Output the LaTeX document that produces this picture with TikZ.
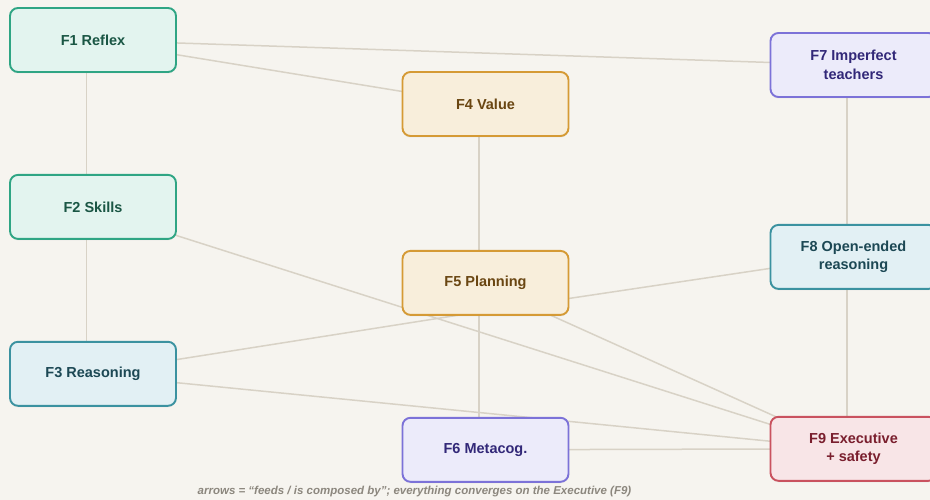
\documentclass[tikz,border=0pt]{standalone}
\usepackage{fontspec}
\setmainfont{Liberation Sans}
\usepackage{tikz}
\usetikzlibrary{positioning,backgrounds,shadows}
\definecolor{paper}{HTML}{F6F4EF}
\definecolor{linegray}{HTML}{D8D2C6}
\definecolor{capgray}{HTML}{8C877E}
\definecolor{reflexdraw}{HTML}{2FA584}
\definecolor{reflexfill}{HTML}{E3F4EF}
\definecolor{reflexink}{HTML}{1A5644}
\definecolor{valuedraw}{HTML}{D59A35}
\definecolor{valuefill}{HTML}{F8EEDB}
\definecolor{valueink}{HTML}{6A4612}
\definecolor{reasondraw}{HTML}{3B92A0}
\definecolor{reasonfill}{HTML}{E2F0F4}
\definecolor{reasonink}{HTML}{1C4854}
\definecolor{metadraw}{HTML}{7C72D8}
\definecolor{metafill}{HTML}{ECEBFA}
\definecolor{metaink}{HTML}{322878}
\definecolor{execdraw}{HTML}{C9525F}
\definecolor{execfill}{HTML}{F8E5E7}
\definecolor{execink}{HTML}{7A1F2E}

\begin{document}
\begin{tikzpicture}[x=1pt, y=-1pt, font=\bfseries\fontsize{14.5}{18.5}\selectfont,
  fbox/.style={draw, rounded corners=8pt, line width=1.9pt, minimum width=166pt, minimum height=64pt, inner sep=0pt, align=center,
    drop shadow={opacity=0.1, shadow xshift=0pt, shadow yshift=-1.5pt}},
  reflexbox/.style={fbox, draw=reflexdraw, fill=reflexfill, text=reflexink},
  valuebox/.style={fbox, draw=valuedraw, fill=valuefill, text=valueink},
  reasonbox/.style={fbox, draw=reasondraw, fill=reasonfill, text=reasonink},
  metabox/.style={fbox, draw=metadraw, fill=metafill, text=metaink},
  execbox/.style={fbox, draw=execdraw, fill=execfill, text=execink},
  link/.style={draw=linegray, line width=1.5pt},
  caption/.style={font=\bfseries\itshape\fontsize{11.5}{14}\selectfont, text=capgray}]
  \useasboundingbox (0,0) rectangle (930,500);
  \node[reflexbox] (f1) at (93,40) {F1 Reflex};
  \node[reflexbox, below=101pt of f1] (f2) {F2 Skills};
  \node[reasonbox, below=101pt of f2] (f3) {F3 Reasoning};
  \node[valuebox] (f4) at (485.5,104) {F4 Value};
  \node[valuebox, below=113pt of f4] (f5) {F5 Planning};
  \node[metabox, below=101pt of f5] (f6) {F6 Metacog.};
  \node[metabox] (f7) at (853.5,65) {F7 Imperfect\\teachers};
  \node[reasonbox, below=126pt of f7] (f8) {F8 Open-ended\\reasoning};
  \node[execbox, below=126pt of f8] (f9) {F9 Executive\\+ safety};
  \node[caption] (note) at (414.5,492) {arrows = “feeds / is composed by”; everything converges on the Executive (F9)};
  \begin{scope}[on background layer]
    \fill[paper] (0,0) rectangle (930,500);
    \draw[link] ([xshift=-6.5pt]f1.center) -- ([xshift=-6.5pt]f2.center);
    \draw[link] ([xshift=-6.5pt]f2.center) -- ([xshift=-6.5pt]f3.center);
    \draw[link] ([xshift=-6.5pt]f1.center) -- ([xshift=-6.5pt]f7.center);
    \draw[link] ([xshift=-6.5pt]f1.center) -- ([xshift=-6.5pt]f4.center);
    \draw[link] ([xshift=-6.5pt]f4.center) -- ([xshift=-6.5pt]f5.center);
    \draw[link] ([xshift=-6.5pt]f5.center) -- ([xshift=-6.5pt]f6.center);
    \draw[link] ([xshift=-6.5pt]f7.center) -- ([xshift=-6.5pt]f8.center);
    \draw[link] ([xshift=-6.5pt]f8.center) -- ([xshift=-6.5pt]f9.center);
    \draw[link] ([xshift=-6.5pt]f3.center) -- ([xshift=-6.5pt, yshift=-29pt]f5.center);
    \draw[link] ([xshift=-6.5pt, yshift=-29pt]f5.center) -- ([xshift=-6.5pt]f8.center);
    \draw[link] ([xshift=-6.5pt]f2.center) -- ([xshift=-6.5pt]f9.center);
    \draw[link] ([xshift=-6.5pt]f3.center) -- ([xshift=-6.5pt]f9.center);
    \draw[link] ([xshift=-6.5pt]f5.center) -- ([xshift=-6.5pt]f9.center);
    \draw[link] ([xshift=-6.5pt]f6.center) -- ([xshift=-6.5pt]f9.center);
  \end{scope}
\end{tikzpicture}
\end{document}
